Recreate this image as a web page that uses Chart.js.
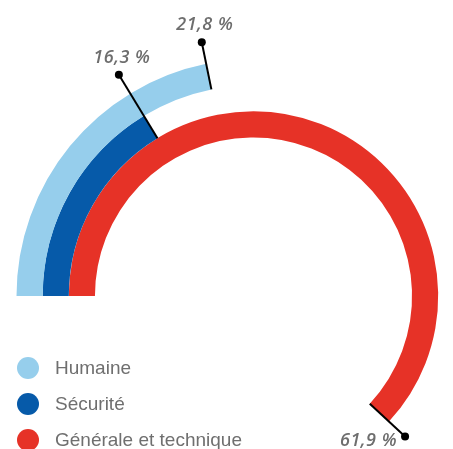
<!DOCTYPE html>
<html>
<head>
<meta charset="utf-8">
<script src="https://cdn.jsdelivr.net/npm/chart.js@4.4.1/dist/chart.umd.min.js"></script>
<style>
    html, body { margin: 0; padding: 0; background: #fff; }
    #frame { position: relative; width: 453px; height: 449px; overflow: hidden; }
    #chartBox { position: absolute; left: 0; top: 0; width: 520px; height: 540px; }
    #legend { position: absolute; left: 17px; top: 357px; margin: 0; padding: 0; list-style: none; }
    #legend li { display: flex; align-items: center; height: 22px; margin-bottom: 14px;
        font-family: "Liberation Sans", Arial, sans-serif; font-size: 19px; color: #6f6f6f; white-space: nowrap; }
    #legend .dot { width: 22px; height: 22px; border-radius: 50%; margin-right: 16px; flex: none; }
</style>
</head>
<body>
<div id="frame">
    <div id="chartBox"><canvas id="ringChart" width="520" height="540"></canvas></div>
    <ul id="legend"></ul>
</div>
<script>
const categories = ['Humaine', 'Sécurité', 'Générale et technique'];
const shares = [21.8, 16.3, 61.9];
const ringColors = ['#96ceec', '#065aa9', '#e63227'];

const FRAME_W = 453, FRAME_H = 449;

// html legend, bottom left
const legendEl = document.getElementById('legend');
categories.forEach((name, i) => {
    const li = document.createElement('li');
    li.innerHTML = '<span class="dot" style="background:' + ringColors[i] + '"></span>' + name;
    legendEl.appendChild(li);
});

const fmt = v => v.toFixed(1).replace('.', ',') + ' %';

// leader line from the end of each arc plus the value label
const leaderLabels = {
    id: 'leaderLabels',
    afterDatasetsDraw(chart) {
        const ctx = chart.ctx;
        const arcs = chart.data.datasets.map((ds, i) => chart.getDatasetMeta(i).data[0]);
        arcs.forEach((arc, i) => {
            const a = arc.endAngle;
            // find the outermost ring that covers this angle
            let rMax = arc.outerRadius;
            arcs.forEach(other => {
                if (other.startAngle <= a && other.endAngle >= a) rMax = Math.max(rMax, other.outerRadius);
            });
            const rDot = rMax + 22;
            const x0 = arc.x + Math.cos(a) * arc.innerRadius;
            const y0 = arc.y + Math.sin(a) * arc.innerRadius;
            const x1 = arc.x + Math.cos(a) * rDot;
            const y1 = arc.y + Math.sin(a) * rDot;

            ctx.save();
            ctx.strokeStyle = '#000';
            ctx.lineWidth = 2;
            ctx.beginPath();
            ctx.moveTo(x0, y0);
            ctx.lineTo(x1, y1);
            ctx.stroke();
            ctx.fillStyle = '#000';
            ctx.beginPath();
            ctx.arc(x1, y1, 4, 0, Math.PI * 2);
            ctx.fill();

            ctx.font = 'italic 600 18px "Open Sans", sans-serif';
            ctx.letterSpacing = '0.5px';
            ctx.fillStyle = '#6e6e6e';
            ctx.textBaseline = 'alphabetic';
            const text = fmt(shares[i]);
            if (y1 < arc.y) {
                ctx.textAlign = 'center';
                ctx.fillText(text, x1 + 3, y1 - 12);
            } else if (y1 + 25 <= FRAME_H - 2) {
                ctx.textAlign = 'center';
                ctx.fillText(text, x1 + 3, y1 + 25);
            } else {
                // no room below the dot inside the frame: put it to the left
                ctx.textAlign = 'right';
                ctx.fillText(text, x1 - 8, FRAME_H - 3);
            }
            ctx.restore();
        });
    }
};

new Chart(document.getElementById('ringChart'), {
    type: 'doughnut',
    data: {
        labels: categories,
        datasets: shares.map((v, i) => ({
            label: categories[i],
            data: [v, 100 - v],
            backgroundColor: [ringColors[i], 'rgba(0,0,0,0)'],
            borderWidth: 0
        }))
    },
    options: {
        responsive: false,
        animation: false,
        events: [],
        rotation: -90,
        circumference: 360,
        cutout: '66.9%',
        layout: { padding: { left: 16.5, top: 59, right: 29.5, bottom: 7 } },
        plugins: {
            legend: { display: false },
            tooltip: { enabled: false }
        }
    },
    plugins: [leaderLabels]
});
</script>
</body>
</html>
